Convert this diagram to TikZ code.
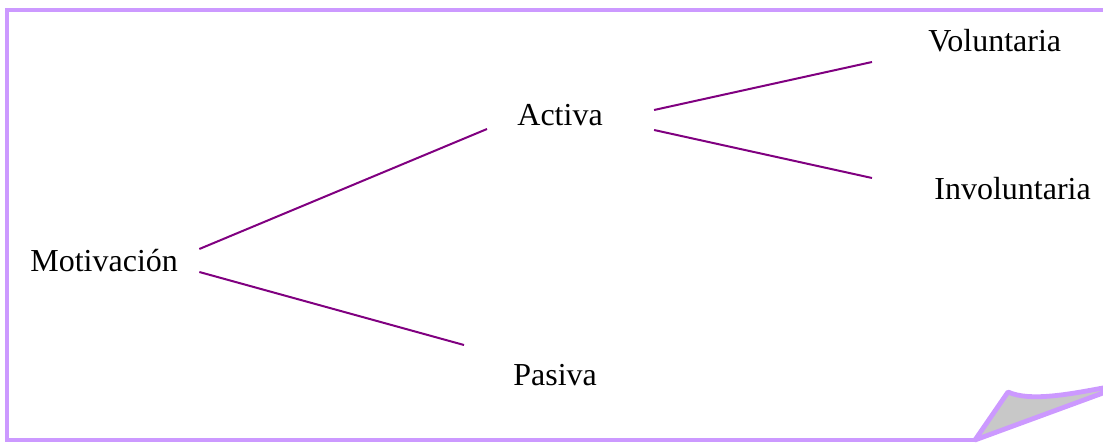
\documentclass[tikz,border=0pt]{standalone}
\usepackage{fontspec}
\setmainfont{Liberation Serif}
\usepackage{tikz}
\definecolor{framelilac}{HTML}{CC99FF}
\definecolor{branchpurple}{HTML}{800080}
\definecolor{curlgrey}{HTML}{C8C8C8}
\tikzset{label/.style={inner sep=0pt,anchor=base west,font=\fontsize{16}{19}\selectfont}}
\tikzset{branch/.style={draw=branchpurple,line width=1pt}}
\tikzset{frame/.style={draw=framelilac,line width=2.4pt}}

\begin{document}
\begin{tikzpicture}[x=0.5pt,y=-0.5pt]
                \useasboundingbox (0,0) rectangle (1103,443);

                % Frame
                \draw[frame] (975,440) -- (7,440) -- (7,10) -- (1103,10);

                % Page curl
                \filldraw[frame,fill=curlgrey,line join=round] (975,440) -- (1008,392)
                    .. controls (1030,402) and (1070,394) .. (1103,388) -- (1103,393) -- cycle;

                % Labels
                \node[label] (mot) at (30,272) {Motivación};
                \node[label] (act) at (517,126) {Activa};
                \node[label] (pas) at (513,385) {Pasiva};
                \node[label] (vol) at (928,52) {Voluntaria};
                \node[label] (inv) at (934,200) {Involuntaria};

                % Branches
                \draw[branch] ([shift={(21,-23)}]mot.base east) -- ([shift={(-30,3)}]act.base west);
                \draw[branch] ([shift={(21,0)}]mot.base east) -- ([shift={(-49,-40)}]pas.base west);
                \draw[branch] ([shift={(51,-16)}]act.base east) -- ([shift={(-56,10)}]vol.base west);
                \draw[branch] ([shift={(51,4)}]act.base east) -- ([shift={(-62,-22)}]inv.base west);
\end{tikzpicture}
\end{document}
